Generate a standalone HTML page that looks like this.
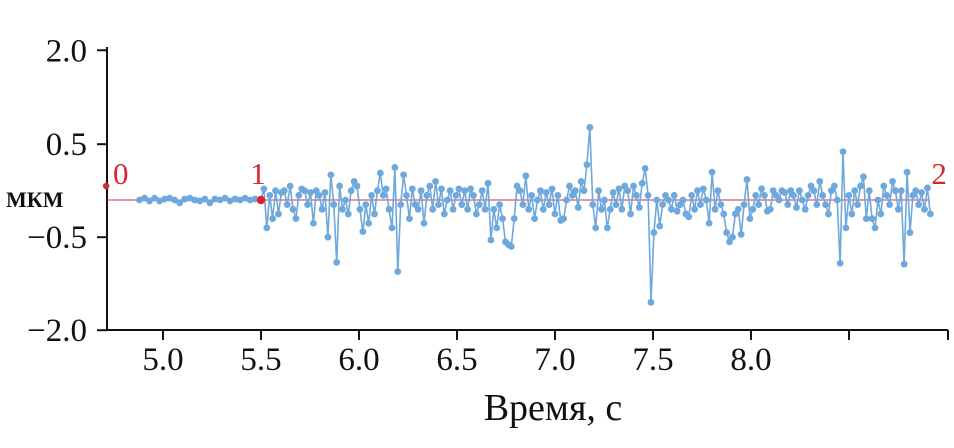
<!DOCTYPE html>
<html><head><meta charset="utf-8"><style>
body{margin:0;background:#fff}
svg{display:block}
text{font-family:"Liberation Serif",serif}
</style></head><body>
<svg id="chart" width="954" height="448"></svg>
<script>
const xTicks=[5.0,5.5,6.0,6.5,7.0,7.5,8.0,8.5];
const xTickLabels=["5.0","5.5","6.0","6.5","7.0","7.5","8.0",""];
const yTicks=[1.61,0.6,-0.4,-1.4];
const yTickLabels=["2.0","0.5","\u22120.5","\u22122.0"];
const flatStart=4.88, flatEnd=5.47;
const flatValues=[0.0,0.02,-0.01,0.02,-0.01,0.01,0.02,0,-0.03,0.01,0.02,0,-0.01,0.01,-0.03,0.01,0,0.02,-0.01,0.01,0,0.02,0,0.01];
const noisyStart=5.5, noisyEnd=8.915;
const noisyValues=[0,0.12,-0.3,0.05,-0.2,0.1,-0.15,0.08,0.1,-0.05,
0.15,-0.1,-0.2,0.05,0.12,0.1,-0.05,0.08,-0.25,0.1,
0.05,-0.1,0.08,-0.4,0.27,-0.05,-0.67,0.15,-0.1,0.0,
-0.15,0.1,0.2,0.15,-0.1,-0.34,-0.05,-0.25,0.05,-0.15,
0.1,0.29,0.05,0.12,-0.1,-0.3,0.35,-0.77,-0.05,0.27,
0.05,-0.2,0.12,-0.05,-0.1,0.1,-0.25,0.05,0.15,-0.1,
0.2,-0.05,0.12,-0.15,0.0,0.1,-0.1,0.05,0.12,-0.05,
0.1,-0.1,0.12,0.05,-0.15,-0.05,0.1,-0.1,0.18,-0.43,
-0.1,-0.3,-0.05,-0.2,-0.45,-0.48,-0.5,-0.2,0.15,0.1,
-0.05,0.26,-0.1,0.05,-0.2,0.0,0.1,-0.1,0.08,-0.05,
0.12,-0.15,0.05,-0.22,-0.2,0.0,0.15,0.05,0.1,-0.08,
0.2,0.1,0.38,0.78,-0.05,-0.3,0.1,-0.1,0.0,-0.3,
-0.1,0.08,-0.05,0.12,-0.1,0.15,0.1,-0.15,0.15,0.05,
-0.08,0.18,0.34,0.05,-1.1,-0.35,0.0,-0.28,-0.05,0.05,
0.0,-0.1,0.05,-0.12,-0.05,0.0,-0.15,-0.18,0.05,-0.1,
0.1,-0.05,0.12,0.0,-0.25,0.3,-0.1,0.1,-0.05,-0.15,
-0.35,-0.45,-0.4,-0.15,-0.1,-0.37,-0.05,0.22,-0.2,-0.1,
0.05,-0.05,0.12,0.05,-0.12,-0.1,0.1,0.05,0.0,0.1,
0.08,-0.05,0.1,0.05,-0.08,0.1,0.0,-0.1,0.05,0.15,
0.1,-0.05,0.2,0.05,-0.05,-0.15,0.1,0.15,0.0,-0.68,
0.52,-0.3,0.05,-0.15,0.1,-0.05,0.15,0.25,-0.2,0.1,
-0.2,-0.3,0.0,-0.15,0.15,0.05,-0.05,0.2,0.1,-0.1,
0.1,-0.69,0.3,-0.35,0.05,0.1,-0.05,0.08,-0.1,0.13,
-0.15];
const markerTimes=[4.71,5.5];
const markerValues=[0.15,0];
const markerLabels=["0","1","2"];
const markerLabelTimes=[4.745,5.445,8.92];

const NS="http://www.w3.org/2000/svg";
const svg=document.getElementById('chart');
const X=t=>163+(t-5)*196;
const Y=v=>200-93*v;
function el(tag,attrs,parent){const e=document.createElementNS(NS,tag);for(const k in attrs)e.setAttribute(k,attrs[k]);(parent||svg).appendChild(e);return e;}

let a=el('line',{x1:107,y1:47,x2:107,y2:331,stroke:'#111','stroke-width':2});


a=el('line',{x1:106,y1:330,x2:948,y2:330,stroke:'#111','stroke-width':2});



yTicks.forEach((v,i)=>{
  const t=el('line',{x1:97,y1:Y(v),x2:107,y2:Y(v),stroke:'#111','stroke-width':2});
  
  
  const l=el('text',{x:87,y:Y(v)+11,'text-anchor':'end','font-size':33,fill:'#111'});
  l.textContent=yTickLabels[i];
  
  
});
xTicks.forEach((v,i)=>{
  const t=el('line',{x1:X(v),y1:330,x2:X(v),y2:340,stroke:'#111','stroke-width':2});
  
  
  const l=el('text',{x:X(v),y:370,'text-anchor':'middle','font-size':33,fill:'#111'});
  l.textContent=xTickLabels[i];
  
  
});
let tl=el('line',{x1:948,y1:330,x2:948,y2:340,stroke:'#111','stroke-width':2});



const bl=el('line',{x1:107,y1:Y(0),x2:930,y2:Y(0),stroke:'#c0304a','stroke-width':1});



const pts=[];
flatValues.forEach((v,i)=>pts.push([flatStart+(flatEnd-flatStart)*i/(flatValues.length-1),v]));
noisyValues.forEach((v,i)=>pts.push([noisyStart+(noisyEnd-noisyStart)*i/(noisyValues.length-1),v]));
const path=el('polyline',{points:pts.map(p=>X(p[0]).toFixed(1)+','+Y(p[1]).toFixed(1)).join(' '),fill:'none',stroke:'#6fa8dc','stroke-width':1.6});


const g=el('g',{fill:'#6fa8dc'});


pts.forEach(p=>{
  const c=el('circle',{cx:X(p[0]),cy:Y(p[1]),r:3.4},g);
  
  
});

markerTimes.forEach((t,i)=>{
  const c=el('circle',{cx:X(t),cy:Y(markerValues[i]),r:i==0?3.2:4.2,fill:'#d7262e'});
  
  
});
markerLabels.forEach((s,i)=>{
  const l=el('text',{x:X(markerLabelTimes[i]),y:184,'font-size':31,fill:'#d7262e'});
  l.textContent=s;
  
  
});

let yt=el('text',{x:6,y:207,'font-size':22,'font-weight':'bold',fill:'#111'});
yt.textContent='МКМ';


let xt=el('text',{x:553,y:420,'text-anchor':'middle','font-size':38,fill:'#111'});
xt.textContent='Время, с';


</script>
</body></html>
